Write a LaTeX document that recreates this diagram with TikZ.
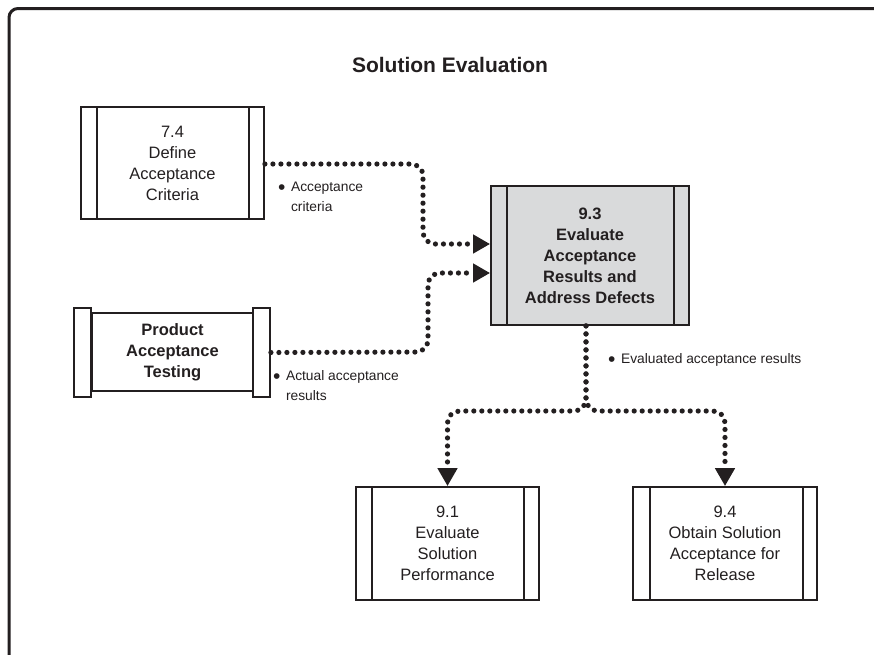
\documentclass[tikz,border=0pt]{standalone}
\usepackage{fontspec}
\setmainfont{Liberation Sans}
\usetikzlibrary{arrows.meta,calc}
\definecolor{ink}{HTML}{231F20}
\definecolor{boxgray}{HTML}{D9DADB}
\newcommand{\bigbul}{{\fontsize{21}{20}\selectfont\raisebox{-3pt}{•}}}
\begin{document}
\begin{tikzpicture}[x=1pt,y=-1pt,
  boxtext/.style={font=\fontsize{16.5}{21}\selectfont, align=center, text=ink},
  procbox/.style={boxtext, draw=ink, line width=1.8pt, rectangle, inner sep=0pt},
  tabbox/.style={draw=ink, line width=1.8pt, rectangle, inner sep=0pt, minimum width=17pt, minimum height=89pt},
  tabline/.style={draw=ink, line width=1.8pt},
  dotconn/.style={draw=ink, line width=5.2pt, line cap=round, dash pattern=on 0pt off 8pt, rounded corners=12pt},
  tipR/.style={-{Triangle[length=17pt,width=18pt]}},
  tipD/.style={-{Triangle[length=18pt,width=19pt]}},
  lbl/.style={font=\fontsize{13.8}{20}\selectfont, text=ink, inner sep=0pt, anchor=north west}
]
\useasboundingbox (0,0) rectangle (874,654);
% frame
\draw[ink, line width=3pt, rounded corners=9pt] (9,700) -- (9,8.5) -- (900,8.5);
% title
\node[font=\bfseries\fontsize{21}{25}\selectfont, text=ink] (title) at (450,65) {Solution Evaluation};

% 7.4
\node[procbox, minimum width=183pt, minimum height=112pt] (n74) at (172.5,163) {7.4\\Define\\Acceptance\\Criteria};
\draw[tabline] ([xshift=17pt]n74.north west) -- ([xshift=17pt]n74.south west);
\draw[tabline] ([xshift=-16pt]n74.north east) -- ([xshift=-16pt]n74.south east);

% Product Acceptance Testing
\node[tabbox] (patL) at (82.5,352.5) {};
\node[tabbox] (patR) at (261.5,352.5) {};
\node[procbox, font=\bfseries\fontsize{16.5}{21}\selectfont, minimum width=161pt, minimum height=78pt] (pat) at (172.5,352) {Product\\Acceptance\\Testing};

% 9.3
\node[procbox, fill=boxgray, font=\bfseries\fontsize{16.5}{21}\selectfont, minimum width=198pt, minimum height=139pt] (n93) at (590,255.5) {9.3\\Evaluate\\Acceptance\\Results and\\Address Defects};
\draw[tabline] ([xshift=17pt]n93.north west) -- ([xshift=17pt]n93.south west);
\draw[tabline] ([xshift=-16pt]n93.north east) -- ([xshift=-16pt]n93.south east);

% 9.1
\node[procbox, minimum width=183pt, minimum height=113pt] (n91) at (447.5,543.5) {9.1\\Evaluate\\Solution\\Performance};
\draw[tabline] ([xshift=17pt]n91.north west) -- ([xshift=17pt]n91.south west);
\draw[tabline] ([xshift=-16pt]n91.north east) -- ([xshift=-16pt]n91.south east);

% 9.4
\node[procbox, minimum width=184pt, minimum height=113pt] (n94) at (725,543.5) {9.4\\Obtain Solution\\Acceptance for\\Release};
\draw[tabline] ([xshift=18pt]n94.north west) -- ([xshift=18pt]n94.south west);
\draw[tabline] ([xshift=-15pt]n94.north east) -- ([xshift=-15pt]n94.south east);

% connectors
\coordinate (c1) at (423,164);
\coordinate (c2) at (428,352);
\coordinate (brY) at (586,411);
\draw[dotconn, tipR] ([yshift=-1pt]n74.east) -- (c1) |- ([yshift=11.5pt]n93.west);
\draw[dotconn, tipR] (patR.east) -- (c2) |- ([yshift=-17.5pt]n93.west);
\draw[dotconn, tipD] ([xshift=-4pt]n93.south) |- (n91.north |- brY) -- (n91.north);
\draw[dotconn, tipD] ([xshift=-4pt]n93.south) |- (n94.north |- brY) -- (n94.north);

% labels
\node[lbl] (l1) at (278,177) {\begin{tabular}{@{}l@{\hspace{5.5pt}}l@{}}\bigbul&Acceptance\\&criteria\end{tabular}};
\node[lbl] (l2) at (273,366) {\begin{tabular}{@{}l@{\hspace{5.5pt}}l@{}}\bigbul&Actual acceptance\\&results\end{tabular}};
\node[lbl] (l3) at (608,349) {\begin{tabular}{@{}l@{\hspace{5.5pt}}l@{}}\bigbul&Evaluated acceptance results\end{tabular}};
\end{tikzpicture}
\end{document}
